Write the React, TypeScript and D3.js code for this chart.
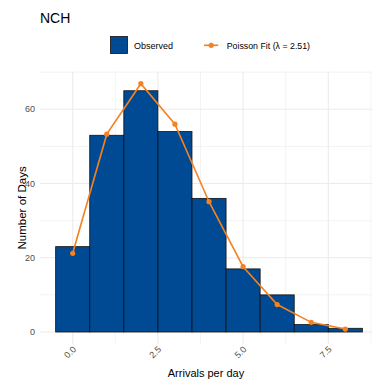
import React from 'react';
import * as d3 from 'd3';

// counts of days per arrival number
const arrivals = [0, 1, 2, 3, 4, 5, 6, 7, 8];
const observed = [23, 53, 65, 54, 36, 17, 10, 2, 1];
const poissonFit = [21.2, 53.3, 66.9, 56.0, 35.1, 17.6, 7.4, 2.6, 0.8];
const xTicks = [0, 2.5, 5, 7.5];
const xMinor = [1.25, 3.75, 6.25, 8.75];
const yTicks = [0, 20, 40, 60];
const yMinor = [10, 30, 50, 70];

const W = 377;
const H = 386;
const panel = { left: 40, right: 372, top: 71.4, bottom: 344.4 };

const BLUE = '#004a93';
const ORANGE = '#f58220';
const GRID = '#ebebeb';
const font = 'Liberation Sans, Arial, sans-serif';

export default function App() {
    const x = d3.scaleLinear().domain([0, 7.5]).range([72.7, 328.3]);
    const y = d3.scaleLinear().domain([0, 60]).range([332, 109.3]);

    const line = d3.line<number>()
        .x((_, i) => x(arrivals[i]))
        .y(d => y(d));

    return (
        <svg width={W} height={H} style={{ position: 'absolute', left: 0, top: 0, background: '#fff' }}
            fontFamily={font}>
            {/* grid */}
            {yMinor.map(v => (
                <line key={'ym' + v} x1={panel.left} x2={panel.right} y1={y(v)} y2={y(v)}
                    stroke={GRID} strokeWidth={0.6} />
            ))}
            {xMinor.map(v => (
                <line key={'xm' + v} x1={x(v)} x2={x(v)} y1={panel.top} y2={panel.bottom}
                    stroke={GRID} strokeWidth={0.6} />
            ))}
            {yTicks.map(v => (
                <line key={'y' + v} x1={panel.left} x2={panel.right} y1={y(v)} y2={y(v)}
                    stroke={GRID} strokeWidth={1.1} />
            ))}
            {xTicks.map(v => (
                <line key={'x' + v} x1={x(v)} x2={x(v)} y1={panel.top} y2={panel.bottom}
                    stroke={GRID} strokeWidth={1.1} />
            ))}

            {/* bars */}
            {observed.map((v, i) => (
                <rect key={'b' + i}
                    x={x(arrivals[i] - 0.5)} width={x(1) - x(0)}
                    y={y(v)} height={y(0) - y(v)}
                    fill={BLUE} stroke="#111" strokeWidth={0.8} />
            ))}

            {/* poisson fit */}
            <path d={line(poissonFit) || ''} fill="none" stroke={ORANGE} strokeWidth={1.6} />
            {poissonFit.map((v, i) => (
                <circle key={'p' + i} cx={x(arrivals[i])} cy={y(v)} r={2.6} fill={ORANGE} />
            ))}

            {/* y axis labels */}
            {yTicks.map(v => (
                <text key={'yl' + v} x={35} y={y(v)} dy="0.35em" textAnchor="end"
                    fontSize={9} fill="#4d4d4d">{v}</text>
            ))}
            {/* x axis labels, rotated */}
            {xTicks.map(v => (
                <text key={'xl' + v} textAnchor="end" fontSize={9} fill="#4d4d4d"
                    transform={`translate(${x(v) + 4},${350}) rotate(-45)`}>
                    {d3.format('.1f')(v)}
                </text>
            ))}

            {/* axis titles */}
            <text x={(panel.left + panel.right) / 2} y={377} textAnchor="middle" fontSize={11} fill="#000">
                Arrivals per day
            </text>
            <text transform={`translate(26,${(panel.top + panel.bottom) / 2}) rotate(-90)`}
                textAnchor="middle" fontSize={11.5} fill="#000">
                Number of Days
            </text>

            {/* title */}
            <text x={40} y={22.7} fontSize={14} fill="#000">NCH</text>

            {/* legend */}
            <rect x={110.5} y={36.5} width={17} height={17} fill={BLUE} stroke="#111" strokeWidth={0.8} />
            <text x={134} y={45.5} dy="0.35em" fontSize={9} fill="#000">Observed</text>
            <line x1={204} x2={218.3} y1={45.3} y2={45.3} stroke={ORANGE} strokeWidth={1.6} />
            <circle cx={211.2} cy={45.3} r={2.6} fill={ORANGE} />
            <text x={226.7} y={45.5} dy="0.35em" fontSize={8.8} fill="#000">Poisson Fit (λ = 2.51)</text>
        </svg>
    );
}
